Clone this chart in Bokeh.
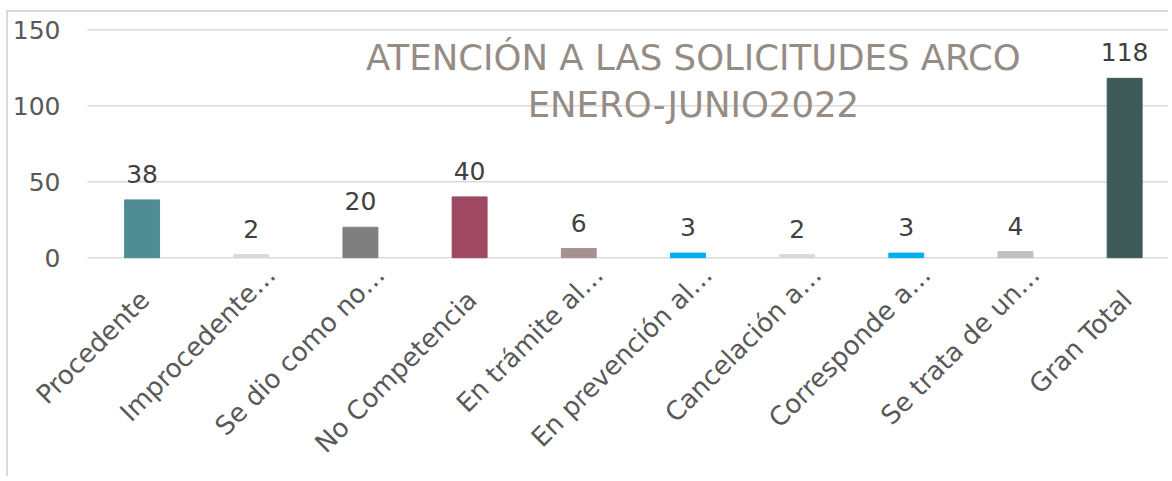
import math
from bokeh.plotting import figure
from bokeh.models import ColumnDataSource, Range1d, LabelSet, Label
from bokeh.core.properties import value
from bokeh.embed import file_html
from bokeh.resources import INLINE

categories = ["Procedente", "Improcedente…", "Se dio como no…", "No Competencia",
              "En trámite al…", "En prevención al…", "Cancelación a…",
              "Corresponde a…", "Se trata de un…", "Gran Total"]
values = [38, 2, 20, 40, 6, 3, 2, 3, 4, 118]
colors = ["#4f8c94", "#d9d9d9", "#7f7f7f", "#9e4862", "#a69191",
          "#00b0f0", "#d9d9d9", "#00b0f0", "#bfbfbf", "#3e5b5a"]
y_ticks = [0, 50, 100, 150]
title_lines = ["ATENCIÓN A LAS SOLICITUDES ARCO", "ENERO-JUNIO2022"]

FONT = "DejaVu Sans"
PX_X = 109.17   # px per category
X0 = -0.5       # left edge of plot area
X1 = 9.42       # right edge of visible area
xs = list(range(len(categories)))
truncated = [c.endswith("…") for c in categories]
src = ColumnDataSource(dict(
    x=xs, top=values, color=colors, label=[str(v) for v in values],
    cat=categories, zero=[0] * len(xs),
    cx=[26 if t else 9 for t in truncated],
    cy=[-19 if t else -44 for t in truncated],
))
tick_src = ColumnDataSource(dict(y=y_ticks, x0=[X0] * len(y_ticks),
                                 x1=[X1] * len(y_ticks),
                                 t=[str(t) for t in y_ticks]))

p = figure(width=1162, height=466, output_backend="svg", toolbar_location=None,
           x_range=Range1d(X0 - 79 / PX_X, X1), y_range=Range1d(-145.3, 160),
           min_border_left=0, min_border_top=2, min_border_bottom=0,
           min_border_right=0)
p.margin = (10, 0, 0, 6)
p.styles = {"border-left": "2px solid #d9d9d9", "border-top": "2px solid #d9d9d9"}
p.outline_line_color = None
p.background_fill_color = "white"
p.border_fill_color = "white"
p.xaxis.visible = False
p.yaxis.visible = False
p.grid.visible = False

# horizontal gridlines and value-axis labels
p.segment(x0="x0", x1="x1", y0="y", y1="y", source=tick_src,
          line_color="#d9d9d9", line_width=1.5)
p.add_layout(LabelSet(x="x0", y="y", text="t", source=tick_src, x_offset=-27,
                      text_align="right", text_baseline="middle",
                      text_font=value(FONT), text_font_size="25px",
                      text_color="#595959"))

p.vbar(x="x", top="top", bottom=0, width=0.32, color="color", source=src)

p.add_layout(LabelSet(x="x", y="top", text="label", source=src, y_offset=17,
                      text_align="center", text_baseline="alphabetic",
                      text_font=value(FONT), text_font_size="25px",
                      text_color="#404040"))

# rotated category labels
p.add_layout(LabelSet(x="x", y="zero", text="cat", source=src,
                      x_offset="cx", y_offset="cy", angle=math.pi / 4,
                      text_align="right", text_baseline="alphabetic",
                      text_font=value(FONT), text_font_size="26px",
                      text_color="#595959"))

for txt, yv in zip(title_lines, [131.6, 101.0]):
    p.add_layout(Label(x=5.05, y=yv, text=txt, text_align="center",
                       text_baseline="middle", text_font=FONT,
                       text_font_size="35.5px", text_color="#958c85"))

open("out.html", "w").write(file_html(p, INLINE))
